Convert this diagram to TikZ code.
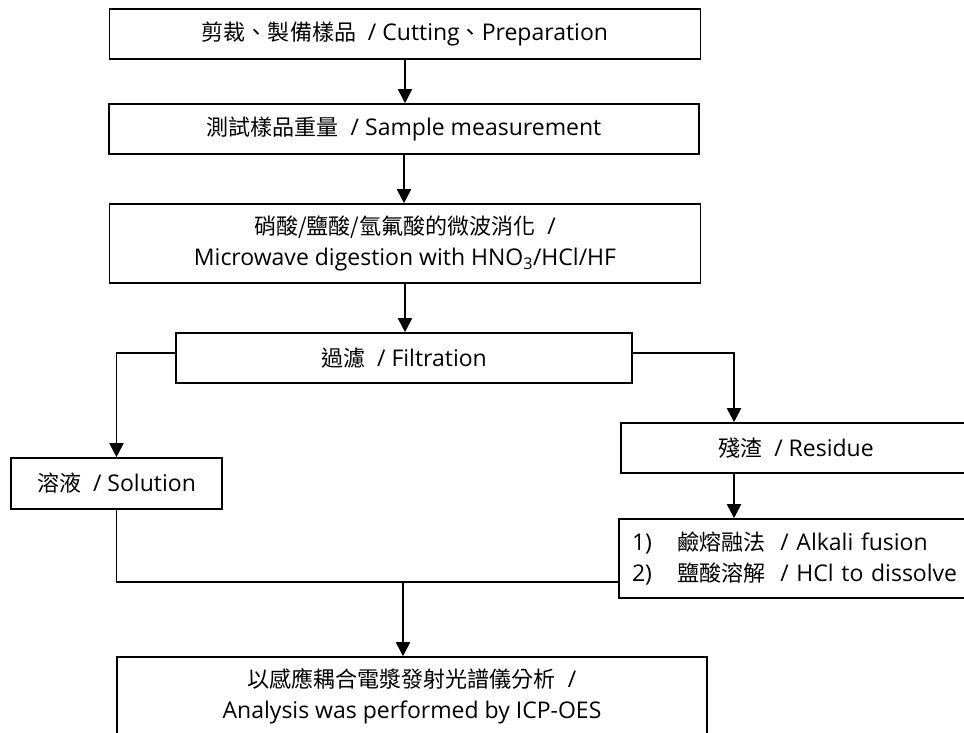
\documentclass[tikz,border=0pt]{standalone}
\usepackage{fontspec}
\setmainfont{Open Sans}
\newfontfamily\cjk[Scale=0.957]{Noto Sans CJK TC}
\usetikzlibrary{arrows.meta}
\begin{document}
\begin{tikzpicture}[x=1pt,y=-1pt,
  box/.style={shape=rectangle,draw,line width=1.6pt,inner sep=0pt,align=center,
    font=\fontsize{23}{31}\selectfont},
  arr/.style={line width=1.8pt,-{Triangle[length=14pt,width=14pt]}}]
\useasboundingbox (0,0) rectangle (964,732);
\clip (0,0) rectangle (964,732);

\node(cut) at (405,34)[box,minimum width=591pt,minimum height=50pt]
  {{\cjk 剪裁、製備樣品}~~/ Cutting{\cjk 、}Preparation};
\node(weigh) at (404,129)[box,minimum width=590pt,minimum height=50pt]
  {{\cjk 測試樣品重量}~~/ Sample measurement};
\node(digest) at (405,243.5)[box,minimum width=591pt,minimum height=79pt]
  {{\cjk 硝酸/鹽酸/氫氟酸的微波消化}~~/\\Microwave digestion with HNO\textsubscript{3}/HCl/HF};
\node(filter) at (404,358)[box,minimum width=456pt,minimum height=50pt]
  {{\cjk 過濾}~~/ Filtration};
\node(sol) at (116.5,483.5)[box,minimum width=211pt,minimum height=51pt]
  {{\cjk 溶液}~~/ Solution};
\node(res) at (796,448)[box,minimum width=350pt,minimum height=50pt]
  {{\cjk 殘渣}~~/ Residue};
\node(alk) at (797,558.5)[box,minimum width=356pt,minimum height=79pt,
  text width=330pt,inner xsep=13pt,align=left]
  {\makebox[45pt][l]{1)}{\cjk 鹼熔融法}~~/ Alkali fusion\\
   \makebox[45pt][l]{2)}{\cjk 鹽酸溶解}~~/ HCl to dissolve};
\node(final) at (412,696.5)[box,minimum width=590pt,minimum height=79pt]
  {{\cjk 以感應耦合電漿發射光譜儀分析}~~/\\Analysis was performed by ICP-OES};

\coordinate(rx) at (734,0);
\coordinate(join) at (403,582);

\draw[arr] (cut.south) -- (cut.south |- weigh.north);
\draw[arr] (weigh.south) -- (weigh.south |- digest.north);
\draw[arr] (digest.south) -- (digest.south |- filter.north);
\draw[arr] ([yshift=5pt]filter.west) -| (sol.north);
\draw[arr] ([yshift=5pt]filter.east) -| (rx |- res.north);
\draw[arr] (rx |- res.south) -- (rx |- alk.north);
\draw[line width=1.6pt] (sol.south) |- (alk.west |- join);
\draw[arr] (join) -- (join |- final.north);

\end{tikzpicture}
\end{document}
